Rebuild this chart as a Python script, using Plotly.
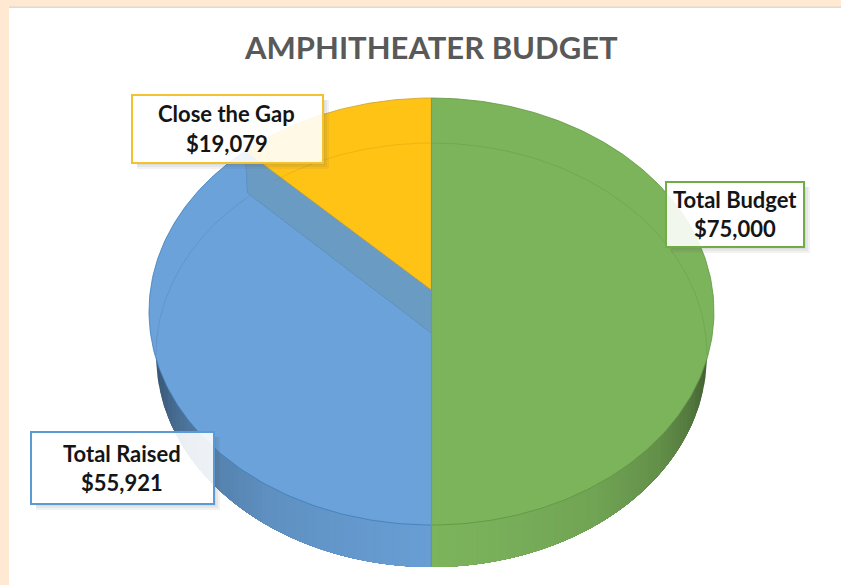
import numpy as np
import plotly.graph_objects as go

# ---- data ----
categories = ["Total Budget", "Total Raised", "Close the Gap"]
values = [75000, 55921, 19079]
slice_colors = ["#7CB45C", "#6AA2D9", "#FFC316"]
edge_colors = ["#5F9440", "#3F7DB8", "#C9A02A"]
box_borders = ["#70AD47", "#5B9BD5", "#F2C230"]
title_text = "AMPHITHEATER BUDGET"

W, H = 841, 585
PANEL_L, PANEL_T = 9, 8
CX, CY, RX, RY = 431.5, 311.5, 282.5, 213.5
DEPTH = 42 / RY
APEX_UP = 21.5 / RY
BOT_RX, BOT_RY, BOT_CY = 275.5 / RX, 212 / RY, -43.5 / RY
VIEW = 0.90  # foreshortening of the cut angle in the tilted view

total = sum(values)
gap_angle = values[2] / total * 360 * VIEW


def rim(a):
    a = np.radians(np.asarray(a, dtype=float))
    return np.sin(a), np.cos(a)


def bot(a):
    a = np.radians(np.asarray(a, dtype=float))
    return BOT_RX * np.sin(a), BOT_CY + BOT_RY * np.cos(a)


def poly(x, y, fill, line=None, width=0.0):
    return go.Scatter(
        x=x, y=y, mode="lines", fill="toself", fillcolor=fill,
        line=dict(color=line or fill, width=width), hoverinfo="skip", showlegend=False,
    )


def arc(x, y, color, width=1.0):
    return go.Scatter(x=x, y=y, mode="lines", line=dict(color=color, width=width),
                      hoverinfo="skip", showlegend=False)


def shade(rgb, t):
    f = np.interp(t, [0, 0.25, 0.6, 0.83, 0.94, 1.0], [1.0, 0.97, 0.91, 0.8, 0.68, 0.56])
    return "rgb(%d,%d,%d)" % tuple(round(c * f) for c in rgb)


fig = go.Figure()

# side wall of the disc: shaded strips of the lower ellipse, cut vertically, darkest at the flanks
for sign, rgb in [(1, (124, 180, 92)), (-1, (104, 158, 212))]:
    for t in np.linspace(1.0, 0.02, 70):
        a0 = np.degrees(np.arcsin(t))
        ang = sign * np.linspace(180 - a0, 180, 60)
        x, y = bot(ang)
        fig.add_trace(poly(np.r_[0, x[0], x, 0], np.r_[BOT_CY, BOT_CY, y, BOT_CY], shade(rgb, t)))

# blue top face
cut = 360 - gap_angle
ang = np.linspace(180, cut, 140)
x, y = rim(ang)
rx_c, ry_c = rim(cut)
cx_b, cy_b = rx_c * 0.988, ry_c - DEPTH
fig.add_trace(poly(np.r_[0, x, cx_b, 0], np.r_[-APEX_UP, y, cy_b, -APEX_UP],
                   slice_colors[1], edge_colors[1], 0.8))

# cut face between the raised and the lowered slice
fig.add_trace(poly([0, rx_c, cx_b, 0, 0], [APEX_UP, ry_c, cy_b, -APEX_UP, APEX_UP],
                   "#6A9BC2", "#5F8FB8", 0.6))

# yellow top face
ang = np.linspace(cut, 360, 60)
x, y = rim(ang)
fig.add_trace(poly(np.r_[0, x, 0], np.r_[APEX_UP, y, APEX_UP],
                   slice_colors[2], edge_colors[2], 0.8))

# green top face
ang = np.linspace(0, 180, 200)
x, y = rim(ang)
fig.add_trace(poly(x, y, slice_colors[0], edge_colors[0], 0.8))

# faint far edge of the lower ellipse seen through the top face
x, y = bot(np.linspace(270, 360 - gap_angle, 60))
fig.add_trace(arc(x, y, "rgba(50,90,140,0.22)", 0.8))
x, y = bot(np.linspace(325, 360, 40))
fig.add_trace(arc(x, y, "rgba(170,120,0,0.25)", 0.8))
x, y = bot(np.linspace(0, 90, 80))
fig.add_trace(arc(x, y, "rgba(60,110,40,0.22)", 0.8))

# green/blue divider down the front of the disc
fig.add_trace(arc([0, 0], [1, -(RY + 42) / RY], "#6E9E78", 1.2))
fig.add_trace(arc([-0.001, -0.001], [-1, -(RY + 42) / RY], "#5E93BE", 0.8))

# ---- page frame and label boxes ----
def px(x):
    return x / W


def py(y):
    return 1 - y / H


shapes = [dict(type="rect", xref="paper", yref="paper", x0=px(PANEL_L), x1=1,
               y0=py(PANEL_T), y1=py(PANEL_T - 1.5), fillcolor="#DEDAD5", line_width=0, layer="above")]
annos = []
boxes = [
    (666, 182, 804, 247, 0),
    (31, 432, 214, 504, 1),
    (132, 95, 323, 163, 2),
]
for x0, y0, x1, y1, i in boxes:
    for s in (2, 4, 6):
        shapes.append(dict(type="rect", xref="paper", yref="paper", x0=px(x1), x1=px(x1 + s),
                           y0=py(y0 + 5), y1=py(y1 + s), fillcolor="rgba(90,90,90,0.08)",
                           line_width=0, layer="above"))
        shapes.append(dict(type="rect", xref="paper", yref="paper", x0=px(x0 + 5), x1=px(x1),
                           y0=py(y1), y1=py(y1 + s), fillcolor="rgba(90,90,90,0.08)",
                           line_width=0, layer="above"))
    shapes.append(dict(type="rect", xref="paper", yref="paper", x0=px(x0), x1=px(x1),
                       y0=py(y0), y1=py(y1), fillcolor="rgba(255,255,255,0.89)",
                       line=dict(color=box_borders[i], width=2), layer="above"))
    xc = (x0 + x1) / 2 + [-0.5, -0.5, -1][i]
    yc = (y0 + y1) / 2
    for text, dy in [(categories[i], -14.5), (f"${values[i]:,}", 14.5)]:
        annos.append(dict(text=text, xref="paper", yref="paper", x=px(xc), y=py(yc + dy - 0.5),
                          xanchor="center", yanchor="middle", showarrow=False,
                          font=dict(family="Lato", size=22, color="#151515", weight="bold")))

annos.append(dict(text=title_text, xref="paper", yref="paper", x=px(431), y=py(47),
                  xanchor="center", yanchor="middle", showarrow=False,
                  font=dict(family="Lato", size=31, color="#595959", weight="bold")))

fig.update_layout(
    width=W, height=H, autosize=False,
    margin=dict(l=0, r=0, t=0, b=0, pad=0),
    paper_bgcolor="#FFE9D3", plot_bgcolor="#FFFFFF",
    showlegend=False, shapes=shapes, annotations=annos, hovermode=False,
    xaxis=dict(domain=[PANEL_L / W, 1], range=[(PANEL_L - CX) / RX, (W - CX) / RX], visible=False, fixedrange=True),
    yaxis=dict(domain=[0, 1 - PANEL_T / H], range=[(CY - H) / RY, (CY - PANEL_T) / RY], visible=False, fixedrange=True),
)

fig.write_html("out.html", config=dict(displayModeBar=False),
               post_script="document.body.style.margin='0';document.body.style.overflow='hidden';")
